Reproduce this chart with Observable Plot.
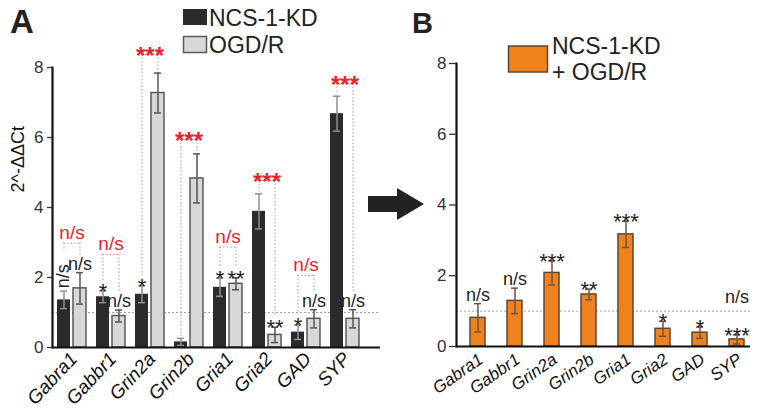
<!DOCTYPE html>
<html><head><meta charset="utf-8">
<script src="https://cdn.jsdelivr.net/npm/d3@7"></script>
<script src="https://cdn.jsdelivr.net/npm/@observablehq/plot@0.6"></script>
<style>
body{margin:0;background:#fff;font-family:"Liberation Sans",Arial,sans-serif;}
#wrap{position:relative;width:764px;height:414px;overflow:hidden;background:#fff;}
#wrap > .p{position:absolute;top:0;}
#overlay{position:absolute;left:0;top:0;pointer-events:none;}
</style></head><body><div id="wrap"><div class="p" id="pa" style="left:0"></div><div class="p" id="pb" style="left:382px"></div></div>
<script>
// ---- data ----
const genes = ["Gabra1","Gabbr1","Grin2a","Grin2b","Gria1","Gria2","GAD","SYP"];
const kdValues  = [1.36, 1.45, 1.52, 0.16, 1.72, 3.89, 0.44, 6.68];
const kdErr     = [0.25, 0.17, 0.24, 0.10, 0.26, 0.50, 0.21, 0.50];
const ogdValues = [1.69, 0.90, 7.27, 4.83, 1.82, 0.36, 0.82, 0.82];
const ogdErr    = [0.45, 0.17, 0.57, 0.70, 0.17, 0.22, 0.26, 0.26];
const kdSig   = ["n/s","*","*","","*","","*",""];
const ogdSig  = ["n/s","n/s","","","**","**","n/s","n/s"];
const pairSig = ["n/s","n/s","***","***","n/s","***","n/s","***"];
const pairLevel = [2.98, 2.66, 8.37, 5.94, 2.87, 4.77, 2.06, 7.54];
const comboValues = [0.81, 1.29, 2.08, 1.47, 3.17, 0.50, 0.39, 0.20];
const comboErr    = [0.40, 0.36, 0.34, 0.15, 0.37, 0.21, 0.16, 0.13];
const comboSig    = ["n/s","n/s","***","**","***","*","*","***"];
const comboSig2   = ["","","","","","","","n/s"];
const yTicks = [0, 2, 4, 6, 8];
const legendA = ["NCS-1-KD", "OGD/R"];
const legendB = ["NCS-1-KD", "+ OGD/R"];
const yLabel = "2^-ΔΔCt";

const FONT = '"Liberation Sans", Arial, sans-serif';
const RED = "#ea2128";

const A = genes.map((g, i) => ({
  gene: g, kd: kdValues[i], kdE: kdErr[i], ogd: ogdValues[i], ogdE: ogdErr[i],
  kdS: kdSig[i], ogdS: ogdSig[i], pS: pairSig[i], pL: pairLevel[i]
}));
const B = genes.map((g, i) => ({
  gene: g, v: comboValues[i], e: comboErr[i], s: comboSig[i], s2: comboSig2[i]
}));

const pad = (s, rotated) => rotated ? 1.15 : s === "" ? 0.05 : s === "n/s" ? 0.5 : 0.3;

function annot(data, yFn, textField, dx) {
  return [
    Plot.text(data, {x: "gene", y: yFn, text: textField, dx, filter: d => d[textField] === "n/s",
      fontSize: 18, lineAnchor: "bottom", dy: -3, fill: "#222"}),
    Plot.text(data, {x: "gene", y: yFn, text: textField, dx, filter: d => d[textField] && d[textField] !== "n/s",
      fontSize: 22, lineAnchor: "bottom", dy: 8, fill: "#222"})
  ];
}

const plotA = Plot.plot({
  width: 382, height: 414,
  marginLeft: 52, marginRight: 2, marginTop: 67, marginBottom: 67,
  style: {fontFamily: FONT, background: "transparent", overflow: "visible"},
  x: {domain: genes, paddingInner: 0.26, paddingOuter: 0.303, align: 0.21},
  y: {domain: [0, 8]},
  marks: [
    Plot.ruleY([1], {stroke: "#a0a0a0", strokeDasharray: "2,2", strokeWidth: 1}),
    Plot.barY(A, {x: "gene", y: "kd", insetRight: 16, fill: "#2b2b2b"}),
    Plot.barY(A, {x: "gene", y: "ogd", insetLeft: 16, fill: "#d8d8d8", stroke: "#5a5a5a", strokeWidth: 1.5}),
    // error bars
    Plot.ruleX(A, {x: "gene", y1: d => d.kd - d.kdE, y2: d => d.kd + d.kdE, dx: -8, stroke: "#8f8f8f", strokeWidth: 1.5}),
    Plot.tickY(A, {x: "gene", y: d => d.kd + d.kdE, insetLeft: 3, insetRight: 19, stroke: "#8f8f8f", strokeWidth: 1.5}),
    Plot.tickY(A, {x: "gene", y: d => d.kd - d.kdE, insetLeft: 3, insetRight: 19, stroke: "#8f8f8f", strokeWidth: 1.5}),
    Plot.ruleX(A, {x: "gene", y1: d => d.ogd - d.ogdE, y2: d => d.ogd + d.ogdE, dx: 8, stroke: "#555", strokeWidth: 1.5}),
    Plot.tickY(A, {x: "gene", y: d => d.ogd + d.ogdE, insetLeft: 19, insetRight: 3, stroke: "#555", strokeWidth: 1.5}),
    Plot.tickY(A, {x: "gene", y: d => d.ogd - d.ogdE, insetLeft: 19, insetRight: 3, stroke: "#555", strokeWidth: 1.5}),
    // brackets
    Plot.ruleX(A, {x: "gene", dx: -8, y1: "pL", y2: d => d.kd + d.kdE + pad(d.kdS, d.gene === "Gabra1"), stroke: "#9a9a9a", strokeDasharray: "1.5,2"}),
    Plot.ruleX(A, {x: "gene", dx: 8, y1: "pL", y2: d => d.ogd + d.ogdE + pad(d.ogdS), stroke: "#9a9a9a", strokeDasharray: "1.5,2"}),
    Plot.tickY(A, {x: "gene", y: "pL", insetLeft: 6.5, insetRight: 6.5, stroke: "#9a9a9a", strokeDasharray: "1.5,2"}),
    Plot.text(A, {x: "gene", y: "pL", text: "pS", filter: d => d.pS === "n/s", fill: RED, fontSize: 19, lineAnchor: "bottom", dy: -4}),
    Plot.text(A, {x: "gene", y: "pL", text: "pS", filter: d => d.pS !== "n/s", fill: RED, fontSize: 24, lineAnchor: "bottom", dy: 9, fontWeight: "bold"}),
    // per-bar annotations
    Plot.text(A, {x: "gene", y: d => d.kd + d.kdE, text: "kdS", filter: d => d.gene === "Gabra1", dx: -9, dy: -3,
      rotate: -90, textAnchor: "start", fontSize: 18, fill: "#222"}),
    ...annot(A.filter(d => d.gene !== "Gabra1"), d => d.kd + d.kdE, "kdS", -8),
    ...annot(A, d => d.ogd + d.ogdE, "ogdS", 8),
    // axes
    Plot.ruleY([0], {strokeWidth: 2, stroke: "#111"}),
    Plot.frame({anchor: "left", strokeWidth: 2.2, stroke: "#111"}),
    Plot.axisY({ticks: yTicks, tickSize: 5, tickPadding: 4, fontSize: 17, label: null, color: "#333", strokeWidth: 1.3}),
    Plot.axisX({tickSize: 0, tickPadding: 8, dx: 2, tickRotate: -47, fontSize: 19, fontStyle: "italic", label: null, color: "#111"}),
    Plot.text([yLabel], {frameAnchor: "left", dx: -34, dy: -15, rotate: -90, fontSize: 18, fill: "#111"})
  ]
});
document.getElementById("pa").append(plotA);

const plotB = Plot.plot({
  width: 382, height: 414,
  marginLeft: 74, marginRight: 14, marginTop: 63, marginBottom: 68,
  style: {fontFamily: FONT, background: "transparent", overflow: "visible"},
  x: {domain: genes, paddingInner: 0.6, paddingOuter: 0.26, align: 0.67},
  y: {domain: [0, 8]},
  marks: [
    Plot.ruleY([1], {stroke: "#a0a0a0", strokeDasharray: "2,2", strokeWidth: 1}),
    Plot.barY(B, {x: "gene", y: "v", fill: "#f0821e", stroke: "#5b4634", strokeWidth: 1.5}),
    Plot.ruleX(B, {x: "gene", y1: d => d.v - d.e, y2: d => d.v + d.e, stroke: "#6b5440", strokeWidth: 1.5}),
    Plot.tickY(B, {x: "gene", y: d => d.v + d.e, insetLeft: 4, insetRight: 4, stroke: "#6b5440", strokeWidth: 1.5}),
    Plot.tickY(B, {x: "gene", y: d => d.v - d.e, insetLeft: 4, insetRight: 4, stroke: "#6b5440", strokeWidth: 1.5}),
    ...annot(B, d => d.v + d.e, "s", 0),
    Plot.text(B, {x: "gene", y: d => d.v + d.e, text: "s2", filter: d => d.s2, dy: -32, lineAnchor: "bottom", fontSize: 18, fill: "#222"}),
    Plot.ruleY([0], {strokeWidth: 2, stroke: "#111"}),
    Plot.frame({anchor: "left", strokeWidth: 2.2, stroke: "#111"}),
    Plot.axisY({ticks: yTicks, tickSize: 7, tickPadding: 3, fontSize: 17, label: null, color: "#333", strokeWidth: 1.3}),
    Plot.axisX({tickSize: 0, tickPadding: 11, dx: 3, tickRotate: -35, fontSize: 17, fontStyle: "italic", label: null, color: "#111"})
  ]
});
document.getElementById("pb").append(plotB);

// overlay: panel letters, legends, arrow
const ov = d3.select("#wrap").append("svg").attr("id", "overlay").attr("width", 764).attr("height", 414)
  .style("font-family", FONT);
ov.append("text").attr("x", 10).attr("y", 33).attr("font-size", 33).attr("font-weight", "bold").attr("fill", "#222").text("A");
ov.append("text").attr("x", 412).attr("y", 33).attr("font-size", 29).attr("font-weight", "bold").attr("fill", "#222").text("B");
// legend A
ov.append("rect").attr("x", 183).attr("y", 9).attr("width", 24).attr("height", 16).attr("fill", "#2b2b2b");
ov.append("rect").attr("x", 183.5).attr("y", 36.5).attr("width", 23).attr("height", 16).attr("fill", "#d8d8d8").attr("stroke", "#5a5a5a").attr("stroke-width", 1.5);
ov.append("text").attr("x", 209).attr("y", 25.5).attr("font-size", 23).attr("fill", "#222").text(legendA[0]);
ov.append("text").attr("x", 209).attr("y", 52.5).attr("font-size", 23).attr("fill", "#222").text(legendA[1]);
// legend B
ov.append("rect").attr("x", 508.5).attr("y", 46).attr("width", 39).attr("height", 26).attr("fill", "#f0821e").attr("stroke", "#5b4634").attr("stroke-width", 1.5);
ov.append("text").attr("x", 552).attr("y", 53.5).attr("font-size", 23).attr("fill", "#222").text(legendB[0]);
ov.append("text").attr("x", 552).attr("y", 79.5).attr("font-size", 23).attr("fill", "#222").text(legendB[1]);
// arrow
ov.append("polygon").attr("points", "368,196 397,196 397,188 424,204 397,220 397,212 368,212").attr("fill", "#222");
</script></body></html>
